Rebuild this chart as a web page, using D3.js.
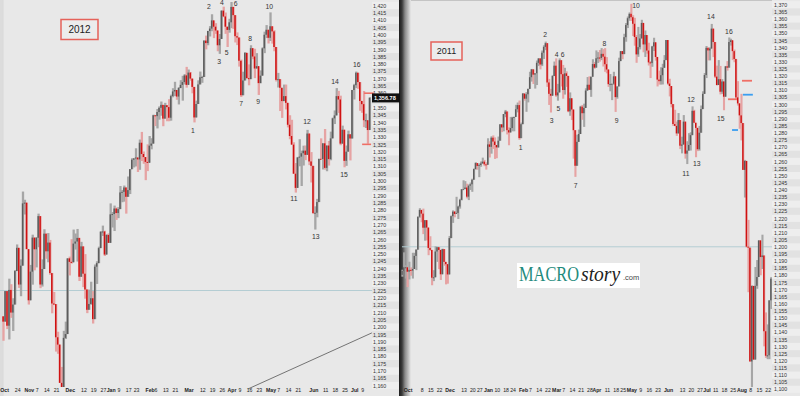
<!DOCTYPE html>
<html><head><meta charset="utf-8">
<script src="https://cdn.jsdelivr.net/npm/d3@7/dist/d3.min.js"></script>
<style>body{margin:0;background:#e8e8e8;}svg{display:block}</style>
</head><body><svg id="c" width="800" height="396"></svg>
<script>
// ---------- LEFT PANEL (2012): daily bars Oct 13 2011 .. Jul 13 2012 ----------
const firstOpenL = 1207.3;
const closeL = [
1203.7,1224.6,1200.9,1225.4,1209.9,1215.4,1238.3,1254.2,1229.1,1242.0,1284.6,1285.1,1253.3,
1218.3,1237.9,1261.2,1253.2,1261.1,1275.9,1229.1,1239.7,1263.9,1251.8,1257.8,1236.9,1216.1,1215.7,1193.0,1188.0,1161.8,1158.7,1192.6,1195.2,1247.0,
1244.6,1244.3,1257.1,1258.5,1261.0,1234.4,1255.2,1236.5,1225.7,1211.8,1215.8,1219.7,1205.4,1241.3,1243.7,1254.0,1265.3,1265.4,1249.6,1263.0,1257.6,
1277.1,1277.3,1281.1,1278.0,1280.7,1292.1,1292.5,1295.5,1289.1,1293.7,1308.0,1314.5,1315.4,1316.0,1314.7,1326.1,1318.4,1316.3,1313.0,1312.4,
1324.1,1325.5,1344.9,1344.3,1347.1,1350.0,1352.0,1342.6,1351.8,1350.5,1343.2,1358.0,1361.2,1362.2,1357.7,1363.5,1365.7,1367.6,1372.2,1365.7,
1374.1,1370.0,1364.3,1343.4,1352.6,1366.0,1370.9,1371.1,1396.0,1394.3,1402.6,1404.2,1409.8,1405.5,1402.9,1392.8,1397.1,1416.5,1412.5,1405.5,1403.3,1408.5,
1419.0,1413.4,1399.0,1398.1,1382.2,1358.6,1368.7,1387.6,1370.3,1369.6,1390.8,1385.1,1376.9,1378.5,1366.9,1372.0,1390.7,1400.0,1403.4,1397.9,
1405.8,1402.3,1391.6,1369.1,1369.6,1363.7,1354.6,1358.0,1353.4,1338.4,1330.7,1324.8,1304.9,1295.2,1316.0,1316.6,1318.9,1320.7,1317.8,1332.4,1313.3,1310.3,
1278.0,1278.2,1285.5,1315.1,1315.0,1325.7,1308.9,1324.2,1314.9,1329.1,1342.8,1344.8,1358.0,1355.7,1325.5,1335.0,1313.7,1320.0,1331.9,1329.0,1362.2,
1365.5,1374.0,1367.6,1354.7,1352.5,1341.5,1341.5,1334.8,1356.8];
const highL = [
1207.5,1224.6,1224.6,1233.1,1229.3,1219.7,1239.0,1256.5,1254.2,1246.3,1292.7,1287.1,1284.7,
1253.2,1242.5,1263.2,1261.1,1261.6,1277.6,1275.9,1246.3,1266.9,1263.9,1264.3,1259.6,1237.0,1224.0,1215.6,1196.8,1187.5,1172.7,1197.4,1203.7,1247.0,
1248.2,1260.1,1266.7,1264.0,1267.1,1260.9,1258.3,1255.2,1249.9,1225.7,1225.6,1231.0,1224.6,1242.8,1245.0,1255.0,1265.4,1269.4,1265.9,1263.5,1264.1,
1284.6,1278.7,1283.1,1281.8,1282.0,1296.5,1293.8,1296.8,1294.5,1303.0,1308.1,1315.5,1315.4,1322.3,1316.0,1328.3,1333.5,1320.1,1316.2,1325.0,
1330.7,1329.2,1345.3,1344.4,1349.2,1351.0,1354.3,1352.0,1353.4,1351.8,1355.9,1359.0,1363.4,1367.8,1362.2,1364.2,1368.9,1371.9,1373.1,1378.0,
1376.2,1374.5,1370.0,1363.6,1354.9,1368.8,1374.8,1371.9,1396.1,1399.4,1402.6,1405.9,1414.0,1409.5,1407.9,1402.9,1400.5,1416.6,1419.2,1415.2,1405.5,1410.9,
1422.4,1419.2,1413.4,1401.6,1397.4,1383.0,1374.7,1388.1,1387.6,1379.7,1392.8,1390.8,1390.4,1387.4,1378.5,1375.6,1391.4,1402.1,1406.6,1403.4,
1415.3,1405.8,1403.1,1391.5,1373.9,1369.6,1363.7,1365.9,1365.9,1353.4,1344.9,1341.8,1326.4,1312.2,1316.4,1328.5,1320.7,1324.1,1324.2,1334.9,1331.3,1319.7,
1309.9,1282.6,1287.7,1315.1,1329.1,1325.8,1335.5,1324.2,1327.3,1333.7,1343.3,1348.2,1363.5,1361.6,1358.3,1337.8,1335.0,1324.2,1334.4,1329.0,1362.2,
1366.4,1374.8,1373.9,1367.1,1354.7,1361.5,1346.0,1341.5,1357.3];
const lowL = [
1190.6,1205.5,1198.6,1191.5,1206.3,1197.3,1215.4,1238.3,1226.8,1221.1,1242.0,1277.0,1253.3,
1215.4,1219.0,1229.0,1238.8,1240.8,1254.6,1226.6,1227.7,1240.0,1246.7,1244.3,1235.7,1209.4,1215.0,1183.2,1181.7,1161.8,1158.7,1158.7,1191.8,1196.7,
1235.3,1243.4,1244.3,1253.0,1244.8,1231.5,1234.3,1227.3,1219.4,1209.5,1212.0,1215.2,1202.4,1205.4,1229.5,1243.9,1254.0,1262.3,1248.6,1249.6,1257.5,
1258.9,1268.1,1265.7,1273.3,1274.5,1280.7,1285.4,1285.8,1277.6,1289.1,1291.0,1308.0,1309.2,1309.9,1306.1,1307.6,1313.6,1311.7,1300.5,1306.7,
1312.4,1321.6,1325.5,1337.5,1335.9,1341.9,1344.6,1337.4,1343.6,1340.8,1340.8,1341.2,1357.2,1358.1,1355.5,1352.3,1363.5,1354.9,1366.0,1363.8,
1365.7,1368.5,1359.9,1340.0,1343.4,1352.6,1366.1,1367.1,1371.9,1390.0,1392.8,1398.8,1402.4,1397.7,1400.6,1388.7,1386.9,1397.1,1412.0,1400.6,1391.6,1401.4,
1404.5,1404.0,1394.7,1392.9,1378.2,1357.4,1358.6,1368.7,1369.9,1365.4,1369.6,1383.3,1370.3,1377.0,1358.8,1366.8,1372.1,1387.4,1397.7,1394.0,
1395.7,1393.9,1388.7,1368.0,1363.9,1347.8,1343.1,1354.6,1348.9,1336.6,1328.5,1324.8,1304.9,1292.0,1295.7,1310.0,1296.5,1310.5,1314.2,1318.9,1310.8,1298.9,
1277.3,1266.7,1275.1,1285.9,1315.0,1307.8,1307.7,1306.6,1310.5,1314.1,1329.1,1338.9,1344.8,1346.5,1324.4,1325.9,1309.3,1310.3,1320.0,1314.0,1329.2,
1355.7,1363.5,1363.0,1348.0,1346.6,1336.8,1336.2,1325.4,1334.8];
const tickValsL = [1160,1165,1170,1175,1180,1185,1190,1195,1200,1205,1210,1215,1220,1225,1230,1235,1240,1245,1250,1255,1260,1265,1270,1275,1280,1285,1290,1295,1300,1305,1310,1315,1320,1325,1330,1335,1340,1345,1350,1355,1360,1365,1370,1375,1380,1385,1390,1395,1400,1405,1410,1415,1420];
const dayIdxL = [7,17,22,27,41,46,51,59,64,68,78,83,88,102,107,112,121,126,131,141,146,151,165,170,175,184];
const dayTxtL = ["24","7","14","21","12","19","27","9","17","23","6","13","21","12","19","26","9","16","23","7","14","21","11","18","25","9"];
const monIdxL = [0.3,13,34,55,75,95,117,137,159,180];
const monTxtL = ["Oct","Nov","Dec","Jan","Feb","Mar","Apr","May","Jun","Jul"];
const noteTxtL = ["1","2","3","4","5","6","7","8","9","10","11","12","13","14","15","16"];
const noteIdxL = [97.2,105.4,110.6,112.1,114.5,119.1,121.9,126.5,130.7,136.4,149,155.7,160.2,170.1,174.7,181.2];
const notePxL = [1334.1,1419,1381.3,1421.7,1387.5,1421,1352.6,1397.1,1354.3,1419.3,1287.6,1340.3,1261.6,1367.7,1304,1379.3];
const refLineL = 1225;
const trendL = [[125.4,1157.6],[189,1196]];
const markIdxL = [[185,190],[184,188.6]];
const markPxL = [1360,1325];
const lastPriceL = 1356.78;

// ---------- RIGHT PANEL (2011): daily bars Oct 22 2010 .. Aug 24 2011 ----------
const firstOpenR = 1180.3;
const closeR = [
1183.1,1185.6,1185.6,1182.5,1183.8,1183.3,
1184.4,1193.6,1198.0,1221.1,1225.9,1223.3,1213.4,1218.7,1213.5,1199.2,1197.8,1178.3,1178.6,1196.7,1199.7,1197.8,1180.7,1198.4,1189.4,1187.8,1180.6,
1206.1,1221.5,1224.7,1223.1,1223.8,1228.3,1233.0,1240.4,1240.5,1241.6,1235.2,1242.9,1243.9,1247.1,1254.6,1258.8,1256.8,1257.5,1258.5,1259.8,1257.9,1257.6,
1271.9,1270.2,1276.6,1273.9,1271.5,1269.8,1274.5,1286.0,1283.8,1293.2,1295.0,1281.9,1280.3,1283.4,1290.8,1291.2,1296.6,1299.5,1276.3,1286.1,
1307.6,1304.0,1307.1,1310.9,1319.1,1324.6,1320.9,1321.9,1329.2,1332.3,1328.0,1336.3,1340.4,1343.0,1315.4,1307.4,1306.1,1319.9,1327.2,
1306.3,1308.4,1331.0,1321.2,1310.1,1321.8,1320.0,1295.1,1304.3,1296.4,1281.9,1256.9,1273.7,1279.2,1298.4,1293.8,1297.5,1309.7,1313.8,1310.2,1319.4,1328.3,1325.8,
1332.4,1332.9,1332.6,1335.5,1333.5,1328.2,1324.5,1314.2,1314.4,1314.5,1319.7,1305.1,1312.6,1330.4,1337.4,1335.3,1347.2,1355.7,1360.5,1363.6,
1361.2,1356.6,1347.3,1335.1,1340.2,1346.3,1357.2,1342.1,1348.7,1337.8,1329.5,1329.0,1340.7,1343.6,1333.3,1317.4,1316.3,1320.5,1325.7,1331.1,1345.2,
1314.6,1312.9,1300.2,1286.2,1284.9,1279.6,1289.0,1271.0,1271.8,1287.9,1265.4,1267.6,1271.5,1278.4,1295.5,1287.1,1283.5,1268.5,1280.1,1296.7,1307.4,1320.6,
1339.7,1337.9,1339.2,1353.2,1343.8,1319.5,1313.6,1317.7,1308.9,1316.1,1305.4,1326.7,1325.8,1343.8,1345.0,1337.4,1331.9,1304.9,1300.7,1292.3,
1286.9,1254.0,1260.3,1200.1,1199.4,1119.5,1172.5,1120.8,1172.6,1178.8,1204.5,1192.8,1193.9,1140.7,1123.5,1123.8,1162.4,1177.6];
const highR = [
1183.9,1196.1,1187.1,1183.9,1189.5,1185.5,
1195.8,1195.8,1198.3,1221.3,1227.1,1224.6,1226.8,1218.8,1215.5,1210.5,1207.4,1197.5,1183.6,1200.3,1200.0,1198.9,1190.2,1198.7,1198.3,1189.4,1187.4,
1207.6,1222.0,1225.6,1225.1,1235.1,1228.9,1233.7,1240.4,1246.7,1246.1,1244.3,1243.8,1245.1,1247.8,1255.0,1259.4,1258.6,1258.6,1259.9,1262.6,1261.0,1259.3,
1276.2,1274.1,1277.6,1278.2,1276.8,1271.5,1277.4,1286.1,1286.0,1293.2,1296.1,1294.6,1283.9,1291.2,1291.3,1291.3,1299.7,1301.3,1302.7,1287.2,
1308.0,1307.6,1308.6,1311.0,1322.9,1324.9,1324.6,1321.9,1330.8,1332.3,1330.6,1337.8,1341.5,1344.1,1338.9,1317.9,1310.9,1320.6,1330.1,
1332.3,1314.4,1332.3,1331.1,1327.7,1325.7,1323.2,1320.0,1308.4,1304.3,1296.4,1280.9,1278.7,1282.3,1299.0,1299.6,1300.5,1311.3,1319.2,1319.7,1319.5,1331.7,1329.8,
1337.9,1336.7,1338.2,1339.5,1338.8,1339.5,1333.2,1324.5,1321.3,1314.5,1322.9,1319.7,1312.7,1332.8,1337.5,1337.4,1349.6,1357.1,1361.7,1364.6,
1370.6,1362.6,1360.8,1348.7,1354.4,1349.4,1359.4,1357.2,1351.9,1348.7,1343.3,1330.4,1341.1,1346.8,1342.0,1333.1,1323.7,1326.1,1328.5,1334.6,1345.2,
1345.2,1318.0,1312.9,1300.2,1296.2,1287.9,1293.9,1289.0,1277.3,1292.5,1287.9,1274.1,1279.8,1280.4,1298.6,1296.2,1286.8,1283.5,1284.9,1299.2,1309.2,1322.0,
1341.0,1340.1,1340.0,1356.5,1353.2,1343.3,1327.2,1331.1,1327.0,1317.7,1316.1,1327.0,1330.4,1347.0,1346.1,1345.0,1338.5,1331.9,1316.3,1300.5,
1307.4,1286.6,1261.0,1260.1,1218.9,1198.7,1172.9,1172.6,1185.8,1190.7,1204.5,1204.5,1208.5,1191.1,1153.9,1145.5,1162.4,1178.7];
const lowR = [
1179.0,1184.7,1177.7,1171.7,1177.1,1179.7,
1177.7,1184.4,1183.6,1198.3,1220.3,1217.2,1208.9,1204.3,1204.5,1194.1,1197.2,1173.0,1175.9,1178.8,1189.4,1184.3,1176.7,1181.4,1186.7,1173.6,1174.1,
1181.0,1206.1,1216.8,1220.7,1223.3,1219.5,1226.8,1232.6,1240.3,1240.5,1234.0,1232.8,1239.9,1238.6,1247.1,1254.2,1254.1,1248.9,1256.2,1258.5,1256.6,1254.2,
1257.6,1262.7,1265.4,1268.7,1261.7,1262.2,1269.7,1274.5,1280.5,1281.1,1291.0,1278.9,1271.3,1280.7,1281.1,1281.1,1291.2,1294.4,1275.1,1276.3,
1286.1,1302.6,1294.8,1301.4,1310.9,1316.0,1314.3,1311.1,1313.6,1326.9,1324.6,1326.9,1331.9,1338.1,1312.3,1299.6,1294.3,1307.3,1320.6,
1305.3,1302.6,1312.8,1312.6,1304.0,1306.9,1312.3,1294.5,1292.0,1289.0,1261.9,1249.1,1261.6,1273.7,1281.7,1289.2,1284.2,1297.7,1310.2,1310.2,1305.3,1319.4,1325.0,
1328.9,1329.1,1330.0,1331.1,1326.6,1322.9,1321.8,1312.3,1309.2,1303.0,1313.7,1294.7,1304.0,1312.6,1332.0,1331.7,1336.0,1344.0,1353.6,1358.7,
1358.6,1348.0,1341.2,1329.2,1333.4,1338.6,1346.3,1336.6,1333.3,1335.6,1327.3,1318.5,1326.4,1337.5,1330.7,1312.6,1313.9,1313.9,1314.0,1325.7,1334.0,
1313.7,1305.6,1297.9,1284.9,1284.7,1277.9,1279.6,1268.6,1265.6,1272.8,1261.9,1258.1,1267.4,1267.6,1278.4,1286.8,1262.9,1267.2,1267.5,1280.1,1296.7,1307.6,
1318.5,1330.9,1330.9,1339.2,1333.2,1318.5,1313.3,1314.7,1307.0,1307.4,1295.9,1305.4,1323.7,1325.8,1341.3,1331.1,1329.6,1303.5,1299.2,1282.9,
1274.7,1254.0,1234.6,1199.5,1168.1,1119.3,1101.5,1120.8,1121.1,1170.5,1178.8,1180.0,1184.4,1130.1,1122.0,1121.1,1121.1,1156.3];
const tickValsR = [1100,1105,1110,1115,1120,1125,1130,1135,1140,1145,1150,1155,1160,1165,1170,1175,1180,1185,1190,1195,1200,1205,1210,1215,1220,1225,1230,1235,1240,1245,1250,1255,1260,1265,1270,1275,1280,1285,1290,1295,1300,1305,1310,1315,1320,1325,1330,1335,1340,1345,1350,1355,1360,1365,1370];
const dayIdxR = [11,16,21,35,40,44,54,59,63,73,78,83,92,97,102,107,117,122,126,136,141,146,160,165,170,179,184,189,199,204,209];
const dayTxtR = ["8","15","22","13","20","27","10","18","24","7","14","22","7","14","21","28","11","18","25","9","16","23","13","20","27","11","18","25","8","15","22"];
const monIdxR = [3,27,49,69,88,111,131,152,174,194];
const monTxtR = ["Oct","Dec","Jan","Feb","Mar","Apr","May","Jun","Jul","Aug"];
const noteTxtR = ["1","2","3","4","5","6","7","8","9","10","11","12","13","14","15","16"];
const noteIdxR = [67.7,81.6,85.4,88.3,89.2,91.7,99.1,115.5,122.6,133.6,162.2,165.1,168.4,176.5,182.2,186.8];
const notePxR = [1269.6,1348.7,1288.5,1335.2,1296.8,1335.2,1242.7,1342.9,1288.3,1369.3,1251.3,1303.6,1258.1,1361.6,1290.2,1351];
const refLineR = 1200;
const markIdxR = [[194.3,200],[194.8,200.5],[186.3,191.4],[188.6,192]];
const markPxR = [1316.6,1306.8,1303.6,1282];
const markColR = ["#ef6f66","#3b9ef0","#ef6f66","#3b9ef0"];

// ---------- drawing ----------
const BG = "#e8e8e8";
const UP_B = "#5c5c5c", UP_W = "#a6a6a6", DN_B = "#cf1111", DN_W = "#e6a3a3";
const FONT = "'Liberation Sans', Arial, sans-serif";
const SERIF = "'Liberation Serif','Times New Roman',serif";
const svg = d3.select("#c");
svg.append("rect").attr("width", 800).attr("height", 396).attr("fill", BG);

const defs = svg.append("defs");
defs.append("clipPath").attr("id", "clipL").append("rect").attr("x", 0).attr("y", 0).attr("width", 372).attr("height", 387);
defs.append("clipPath").attr("id", "clipR").append("rect").attr("x", 399).attr("y", 0).attr("width", 373).attr("height", 390);
const grad = defs.append("linearGradient").attr("id", "div").attr("x1", 0).attr("x2", 1).attr("y1", 0).attr("y2", 0);
grad.append("stop").attr("offset", 0).attr("stop-color", "#1c1c1c");
grad.append("stop").attr("offset", 0.25).attr("stop-color", "#3a3a3a");
grad.append("stop").attr("offset", 0.5).attr("stop-color", "#8a8a8a");
grad.append("stop").attr("offset", 1).attr("stop-color", BG);

const xL = d3.scaleLinear().domain([0, 188]).range([3.5, 3.5 + 188 * 1.949]);
const yL = d3.scaleLinear().domain([1160, 1420]).range([385.5, 5.5]);
const xR = d3.scaleLinear().domain([0, 211]).range([402.4, 771.2]);
const yR = d3.scaleLinear().domain([1100, 1370]).range([389.2, 4.7]);

// left edge strip & divider
svg.append("rect").attr("x", 0).attr("y", 0).attr("width", 2.5).attr("height", 396).attr("fill", "#dcdcdc");
svg.append("line").attr("x1", 3).attr("x2", 3).attr("y1", 0).attr("y2", 396).attr("stroke", "#cdcdcd").attr("stroke-width", 0.6);
svg.append("line").attr("x1", 400).attr("x2", 772).attr("y1", 0.5).attr("y2", 0.5).attr("stroke", "#c4c4c4").attr("stroke-width", 1);

function axisStripes(x0, w, y, ticks) {
  const step = Math.abs(y(ticks[1]) - y(ticks[0]));
  svg.append("g").selectAll("rect").data(ticks).join("rect")
    .attr("x", x0).attr("width", w)
    .attr("y", d => y(d) - step / 2).attr("height", step)
    .attr("fill", (d, i) => i % 2 ? "#e2e2e2" : "#eeeeee");
}
axisStripes(372, 27, yL, tickValsL);
axisStripes(772, 28, yR, tickValsR);

svg.append("rect").attr("x", 399).attr("y", 0).attr("width", 12).attr("height", 396).attr("fill", "url(#div)");

function yAxis(x0, y, ticks) {
  const g = svg.append("g").attr("transform", `translate(${x0},0)`)
    .call(d3.axisRight(y).tickValues(ticks).tickSize(0).tickPadding(0).tickFormat(d3.format(",")));
  g.select(".domain").remove();
  g.selectAll("text").attr("font-family", FONT).attr("font-size", 5.3).attr("fill", "#333");
}
// hide the axis label that sits fully under the last-price box
yAxis(373, yL, tickValsL.filter(v => Math.abs(yL(v) - yL(lastPriceL)) > 4));
yAxis(774, yR, tickValsR);

function dateAxis(x, idx, txt, bold) {
  const g = svg.append("g").attr("transform", "translate(0,386)")
    .call(d3.axisBottom(x).tickValues(idx).tickSize(0).tickPadding(2).tickFormat((d, i) => txt[i]));
  g.select(".domain").remove();
  g.selectAll("text").attr("font-family", FONT).attr("font-size", 5.2)
    .attr("font-weight", bold ? "bold" : "normal").attr("fill", "#222");
}
dateAxis(xL, dayIdxL, dayTxtL, false);
dateAxis(xL, monIdxL, monTxtL, true);
dateAxis(xR, dayIdxR, dayTxtR, false);
dateAxis(xR, monIdxR, monTxtR, true);

// reference lines
svg.append("line").attr("x1", 0).attr("x2", 372).attr("y1", yL(refLineL)).attr("y2", yL(refLineL))
  .attr("stroke", "#b4cdd3").attr("stroke-width", 1);
svg.append("line").attr("x1", 402).attr("x2", 772).attr("y1", yR(refLineR)).attr("y2", yR(refLineR))
  .attr("stroke", "#b4cdd3").attr("stroke-width", 1);

function drawBars(clip, x, y, close, high, low, firstOpen, ww, bw) {
  const bars = close.map((c, i) => ({ i, o: i === 0 ? firstOpen : close[i - 1], c, h: high[i], l: low[i] }));
  const g = svg.append("g").attr("clip-path", `url(#${clip})`);
  g.selectAll("rect.w").data(bars).join("rect").attr("class", "w")
    .attr("x", d => x(d.i) - ww / 2).attr("width", ww)
    .attr("y", d => y(Math.max(d.h, d.o, d.c)))
    .attr("height", d => Math.max(0.8, y(Math.min(d.l, d.o, d.c)) - y(Math.max(d.h, d.o, d.c))))
    .attr("fill", d => d.c >= d.o ? UP_W : DN_W);
  g.selectAll("rect.b").data(bars).join("rect").attr("class", "b")
    .attr("x", d => x(d.i) - ww / 2).attr("width", bw)
    .attr("y", d => y(Math.max(d.o, d.c)))
    .attr("height", d => Math.max(1, Math.abs(y(d.o) - y(d.c))))
    .attr("fill", d => d.c >= d.o ? UP_B : DN_B);
}
drawBars("clipL", xL, yL, closeL, highL, lowL, firstOpenL, 2.3, 1.5);
drawBars("clipR", xR, yR, closeR, highR, lowR, firstOpenR, 2.1, 1.4);

// trend line (left)
svg.append("line")
  .attr("x1", xL(trendL[0][0])).attr("y1", yL(trendL[0][1]))
  .attr("x2", xL(trendL[1][0])).attr("y2", yL(trendL[1][1]))
  .attr("stroke", "#555").attr("stroke-width", 0.8);

// markers
markPxL.forEach((p, i) => {
  svg.append("line").attr("x1", xL(markIdxL[i][0])).attr("x2", xL(markIdxL[i][1]))
    .attr("y1", yL(p)).attr("y2", yL(p)).attr("stroke", "#ef6f66").attr("stroke-width", 1.6);
});
markPxR.forEach((p, i) => {
  svg.append("line").attr("x1", xR(markIdxR[i][0])).attr("x2", xR(markIdxR[i][1]))
    .attr("y1", yR(p)).attr("y2", yR(p)).attr("stroke", markColR[i]).attr("stroke-width", 1.8);
});

// last price box
svg.append("rect").attr("x", 372).attr("y", yL(lastPriceL) - 4.5).attr("width", 28).attr("height", 9).attr("fill", "#111");
svg.append("text").attr("x", 374).attr("y", yL(lastPriceL)).attr("dy", "0.35em")
  .attr("font-family", FONT).attr("font-size", 5.6).attr("font-weight", "bold").attr("fill", "#fff")
  .text(d3.format(",.2f")(lastPriceL));

// numbered annotations
function notes(x, y, idx, px, txt) {
  svg.append("g").selectAll("text").data(txt).join("text")
    .attr("x", (d, i) => x(idx[i])).attr("y", (d, i) => y(px[i])).attr("dy", "0.35em")
    .attr("text-anchor", "middle").attr("font-family", FONT).attr("font-size", 6.8).attr("fill", "#333")
    .text(d => d);
}
notes(xL, yL, noteIdxL, notePxL, noteTxtL);
notes(xR, yR, noteIdxR, notePxR, noteTxtR);

// year boxes
function yearBox(x, y, w, h, t, fs) {
  svg.append("rect").attr("x", x).attr("y", y).attr("width", w).attr("height", h)
    .attr("fill", "#ececec").attr("stroke", "#e5625a").attr("stroke-width", 1.5);
  svg.append("text").attr("x", x + w / 2).attr("y", y + h / 2).attr("dy", "0.36em").attr("text-anchor", "middle")
    .attr("font-family", FONT).attr("font-size", fs).attr("fill", "#222").text(t);
}
yearBox(61, 19.5, 37, 20, "2012", 10);
yearBox(431, 42, 31, 18, "2011", 9);

// MACROstory logo
svg.append("rect").attr("x", 517).attr("y", 263).attr("width", 123).attr("height", 25).attr("fill", "#fff");
svg.append("g").attr("transform", "translate(519,280.5) scale(0.78,1)")
  .append("text").attr("x", 0).attr("y", 0).attr("font-family", SERIF)
  .attr("font-size", 21).attr("fill", "#1f8b7d").text("MACRO");
svg.append("g").attr("transform", "translate(581,280.5) scale(0.98,1)")
  .append("text").attr("x", 0).attr("y", 0).attr("font-family", SERIF)
  .attr("font-size", 20).attr("font-style", "italic").attr("fill", "#222").text("story");
svg.append("text").attr("x", 623).attr("y", 280).attr("font-family", FONT)
  .attr("font-size", 7.5).attr("fill", "#444").text(".com");
</script></body></html>
